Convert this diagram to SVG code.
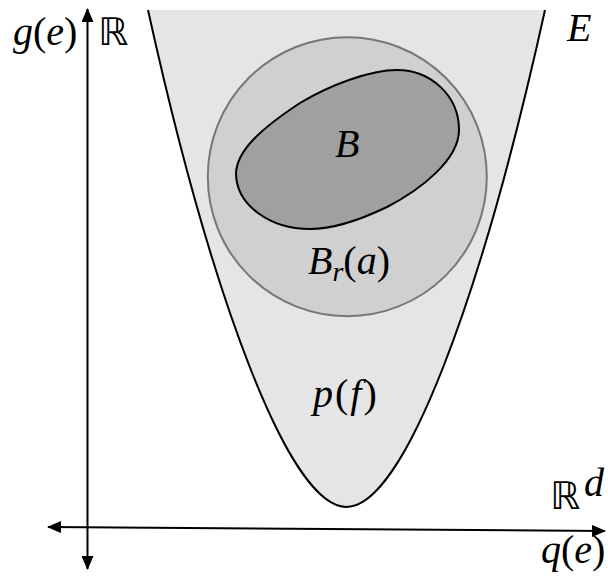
<svg xmlns="http://www.w3.org/2000/svg" width="608" height="581" viewBox="0 0 608 581">
<style>
.m{font-family:"Liberation Serif","Times New Roman",serif;font-size:40px;fill:#000}
.i{font-style:italic}
.bb{font-family:"DejaVu Sans","Noto Sans",sans-serif;font-size:38px;fill:#000}
.ax{stroke:#000;stroke-width:2;fill:none}
</style>
<defs>
<marker id="arr" viewBox="0 0 14 12" refX="13" refY="6" markerUnits="userSpaceOnUse" markerWidth="14" markerHeight="12" orient="auto-start-reverse">
<path d="M0,0 L14,6 L0,12 Z" fill="#000"/>
</marker>
</defs>
<rect width="608" height="581" fill="#fff"/>
<g id="region-E">
<path d="M148,10 C212,300 289.5,507 346.5,507 C403.5,507 481,300 545,10 Z" fill="#e5e5e5"/>
<path d="M148,10 C212,300 289.5,507 346.5,507 C403.5,507 481,300 545,10" fill="none" stroke="#000" stroke-width="2"/>
</g>
<g id="ball-Br">
<circle cx="347.3" cy="176.7" r="139.5" fill="#d0d0d0" stroke="#777" stroke-width="2"/>
</g>
<g id="set-B">
<path d="M236,173 C237,150 262,128 300,103 C330,85 370,70 397,70 C430,70 459,95 459,130 C459,160 420,190 387,207 C360,220 335,229 310,229 C270,229 236,205 236,173 Z" fill="#a0a0a0" stroke="#000" stroke-width="2"/>
</g>
<g id="connectors">
<line class="ax" x1="87.5" y1="569" x2="87.5" y2="9" marker-start="url(#arr)" marker-end="url(#arr)"/>
<line class="ax" x1="48" y1="527" x2="605" y2="531" marker-start="url(#arr)" marker-end="url(#arr)"/>
</g>
<g id="labels">
<text class="m" x="13" y="45" font-size="42"><tspan class="i">g</tspan>(<tspan class="i">e</tspan>)</text>
<text class="bb" x="98" y="45">ℝ</text>
<text class="m i" x="567" y="41">E</text>
<text class="m i" x="335" y="157">B</text>
<text class="m" x="308" y="274"><tspan class="i">B</tspan><tspan class="i" font-size="28" dy="7">r</tspan><tspan dy="-7">(</tspan><tspan class="i">a</tspan>)</text>
<text class="m" x="313" y="407" letter-spacing="2"><tspan class="i">p</tspan>(<tspan class="i">f</tspan>)</text>
<text class="bb" x="550" y="509">ℝ</text>
<text class="m i" x="584" y="496" font-size="27">d</text>
<text class="m" x="541" y="563" font-size="41"><tspan class="i">q</tspan>(<tspan class="i">e</tspan>)</text>
</g>
</svg>
